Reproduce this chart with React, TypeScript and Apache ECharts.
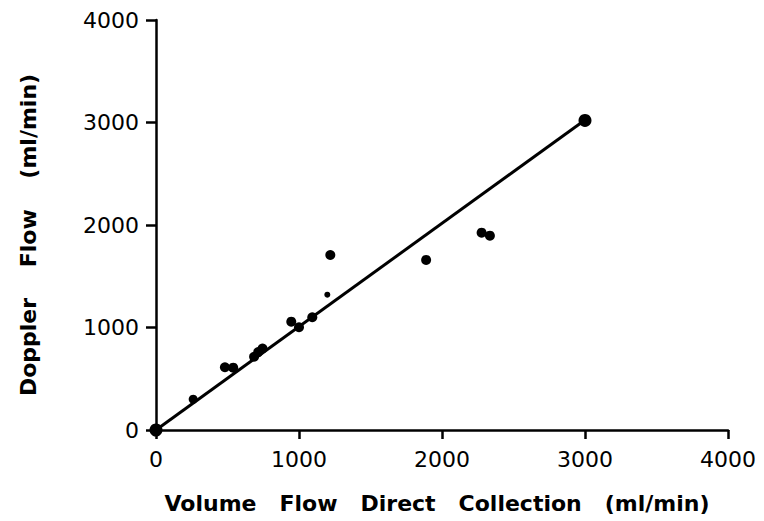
import React, { useEffect, useRef } from "react";
import * as echarts from "echarts";

// Measured points: [volume flow direct collection, doppler flow] (ml/min)
const volumeFlow = [0, 260, 482, 540, 686, 715, 745, 946, 1000, 1093, 1219, 1889, 2277, 2335, 3000];
const dopplerFlow = [0, 300, 612, 608, 715, 760, 795, 1057, 1002, 1100, 1707, 1659, 1925, 1896, 3020];
const pointSizes = [13, 9, 10, 10, 10, 10, 10, 10, 10, 10, 10, 10, 10, 10, 13];
// Small partial mark near 1200
const smallX = [1198];
const smallY = [1320];
// Regression line end points
const fitX = [0, 3000];
const fitY = [0, 3025];

const xTicks = [0, 1000, 2000, 3000, 4000];
const yTicks = [0, 1000, 2000, 3000, 4000];

const xTitle = "Volume   Flow   Direct   Collection   (ml/min)";
const yTitle = "Doppler    Flow    (ml/min)";

const FONT = "DejaVu Sans, Verdana, sans-serif";

export default function App() {
  const ref = useRef<HTMLDivElement>(null);
  useEffect(() => {
    if (!ref.current) return;
    const chart = echarts.init(ref.current, null, { renderer: "svg" });
    const points = volumeFlow.map((x, i) => ({
      value: [x, dopplerFlow[i]],
      symbolSize: pointSizes[i],
    }));
    const fmt = (v: number) => String(v);
    chart.setOption({
      animation: false,
      backgroundColor: "#ffffff",
      grid: { left: 156, right: 36, top: 20, bottom: 91, containLabel: false },
      xAxis: {
        type: "value",
        min: xTicks[0],
        max: xTicks[xTicks.length - 1],
        interval: 1000,
        name: xTitle,
        nameLocation: "middle",
        nameGap: 62,
        nameTextStyle: {
          fontFamily: FONT,
          fontWeight: "bold",
          fontSize: 22,
          color: "#000",
          padding: [0, 10, 0, 0],
        },
        axisLine: { show: true, lineStyle: { color: "#000", width: 2.5 } },
        axisTick: { show: true, length: 9, lineStyle: { color: "#000", width: 2.5 } },
        axisLabel: { fontFamily: FONT, fontSize: 22, color: "#000", margin: 18, formatter: fmt },
        splitLine: { show: false },
      },
      yAxis: {
        type: "value",
        min: yTicks[0],
        max: yTicks[yTicks.length - 1],
        interval: 1000,
        name: yTitle,
        nameLocation: "middle",
        nameGap: 117,
        nameRotate: 90,
        nameTextStyle: {
          fontFamily: FONT,
          fontWeight: "bold",
          fontSize: 22,
          color: "#000",
          padding: [0, 20, 0, 0],
        },
        axisLine: { show: true, lineStyle: { color: "#000", width: 2.5 } },
        axisTick: { show: true, length: 10, lineStyle: { color: "#000", width: 2.5 } },
        axisLabel: { fontFamily: FONT, fontSize: 22, color: "#000", margin: 17, formatter: fmt },
        splitLine: { show: false },
      },
      series: [
        {
          type: "line",
          data: fitX.map((x, i) => [x, fitY[i]]),
          showSymbol: false,
          symbol: "none",
          lineStyle: { color: "#000", width: 3 },
          z: 2,
        },
        {
          type: "scatter",
          data: points,
          itemStyle: { color: "#000", opacity: 1 },
          z: 3,
        },
        {
          type: "scatter",
          data: smallX.map((x, i) => [x, smallY[i]]),
          symbolSize: 6,
          itemStyle: { color: "#000", opacity: 1 },
          z: 3,
        },
      ],
    });
    return () => chart.dispose();
  }, []);
  return (
    <div
      ref={ref}
      style={{ position: "fixed", left: 0, top: 0, width: 764, height: 521 }}
    />
  );
}
